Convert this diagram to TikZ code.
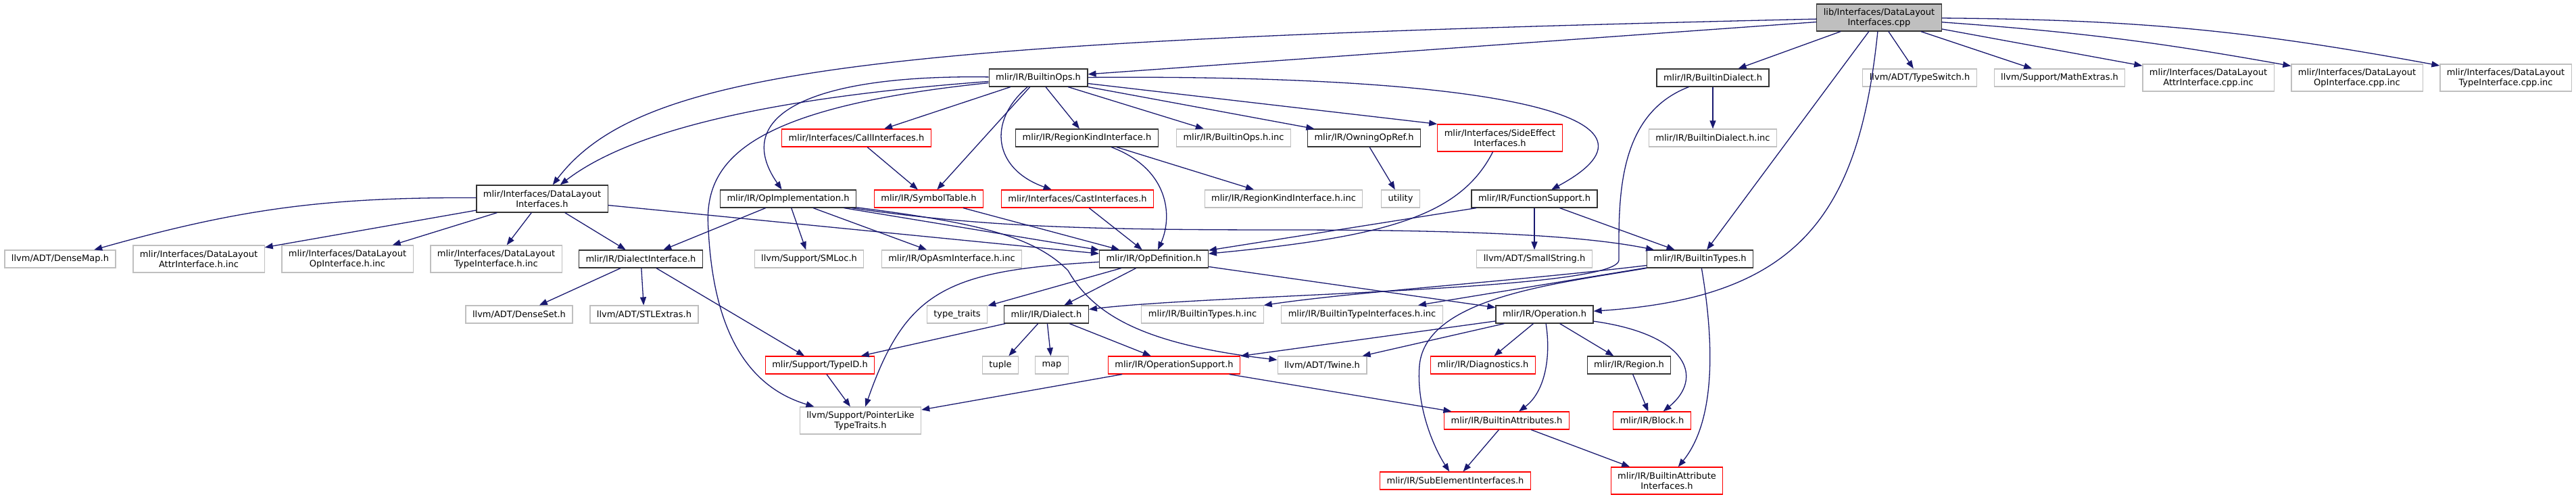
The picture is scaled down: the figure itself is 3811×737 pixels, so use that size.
\documentclass[tikz,border=0pt]{standalone}
\usepackage{fontspec}
\setmainfont{DejaVu Sans}
\usepackage{tikz}
\usetikzlibrary{arrows.meta}
\definecolor{edgeblue}{HTML}{191970}
\definecolor{boxgray}{HTML}{BFBFBF}

\begin{document}
\begin{tikzpicture}[
  x=1pt, y=-1pt,
  font=\fontsize{13}{15}\selectfont,
  >={Triangle[length=12pt,width=9pt]},
  hdr/.style ={rectangle, draw=black!80, fill=white, line width=1.2pt, inner xsep=10pt, inner ysep=2pt, minimum height=26pt, align=center},
  two/.style ={minimum height=40pt},
  sys/.style ={hdr, draw=boxgray},
  cut/.style ={hdr, draw=red},
  src/.style ={hdr, fill=boxgray},
  dep/.style ={->, draw=edgeblue, line width=1.3pt},
]
\useasboundingbox (0,0) rectangle (3811,737);
% the documented file
\node[src,two] (root) at (2780,26) {lib/Interfaces/DataLayout\\Interfaces.cpp};
% rank 1
\node[hdr] (bops)    at (1536,115) {mlir/IR/BuiltinOps.h};
\node[hdr] (bdia)    at (2534,115) {mlir/IR/BuiltinDialect.h};
\node[sys] (tsw)     at (2840,115) {llvm/ADT/TypeSwitch.h};
\node[sys] (mext)    at (3047,115) {llvm/Support/MathExtras.h};
\node[sys,two] (attrcpp) at (3267,115) {mlir/Interfaces/DataLayout\\AttrInterface.cpp.inc};
\node[sys,two] (opcpp)   at (3487,115) {mlir/Interfaces/DataLayout\\OpInterface.cpp.inc};
\node[sys,two] (typecpp) at (3707,115) {mlir/Interfaces/DataLayout\\TypeInterface.cpp.inc};
% rank 2
\node[cut] (call)    at (1267,204) {mlir/Interfaces/CallInterfaces.h};
\node[hdr] (rki)     at (1608,204) {mlir/IR/RegionKindInterface.h};
\node[sys] (bopsinc) at (1825,204) {mlir/IR/BuiltinOps.h.inc};
\node[hdr] (owning)  at (2018,204) {mlir/IR/OwningOpRef.h};
\node[cut,two] (sidefx) at (2219,204) {mlir/Interfaces/SideEffect\\Interfaces.h};
\node[sys] (bdiainc) at (2534,204) {mlir/IR/BuiltinDialect.h.inc};
% rank 3
\node[hdr,two] (dlif) at (802,294) {mlir/Interfaces/DataLayout\\Interfaces.h};
\node[hdr] (opimpl)  at (1166,294) {mlir/IR/OpImplementation.h};
\node[cut] (symtab)  at (1374,294) {mlir/IR/SymbolTable.h};
\node[cut] (cast)    at (1594,294) {mlir/Interfaces/CastInterfaces.h};
\node[sys] (rkiinc)  at (1899,294) {mlir/IR/RegionKindInterface.h.inc};
\node[sys] (util)    at (2072,294) {utility};
\node[hdr] (funcs)   at (2270,294) {mlir/IR/FunctionSupport.h};
% rank 4
\node[sys] (dmap)    at (89,383)   {llvm/ADT/DenseMap.h};
\node[sys,two] (attrinc) at (294,383) {mlir/Interfaces/DataLayout\\AttrInterface.h.inc};
\node[sys,two] (opinc)   at (514,383) {mlir/Interfaces/DataLayout\\OpInterface.h.inc};
\node[sys,two] (typeinc) at (734,383) {mlir/Interfaces/DataLayout\\TypeInterface.h.inc};
\node[hdr] (dialif)  at (948,383)  {mlir/IR/DialectInterface.h};
\node[sys] (smloc)   at (1197,383) {llvm/Support/SMLoc.h};
\node[sys] (opasm)   at (1408,383) {mlir/IR/OpAsmInterface.h.inc};
\node[hdr] (opdef)   at (1707,383) {mlir/IR/OpDefinition.h};
\node[sys] (sstr)    at (2270,383) {llvm/ADT/SmallString.h};
\node[hdr] (btypes)  at (2515,383) {mlir/IR/BuiltinTypes.h};
% rank 5
\node[sys] (dset)    at (768,465)  {llvm/ADT/DenseSet.h};
\node[sys] (stlx)    at (953,465)  {llvm/ADT/STLExtras.h};
\node[sys] (ttraits) at (1416,465) {type\_traits};
\node[hdr] (dialect) at (1548,465) {mlir/IR/Dialect.h};
\node[sys] (btinc)   at (1779,465) {mlir/IR/BuiltinTypes.h.inc};
\node[sys] (btiinc)  at (2015,465) {mlir/IR/BuiltinTypeInterfaces.h.inc};
\node[hdr] (oper)    at (2285,465) {mlir/IR/Operation.h};
% rank 6
\node[cut] (typeid)  at (1213,540) {mlir/Support/TypeID.h};
\node[sys] (tuple)   at (1480,540) {tuple};
\node[sys] (map)     at (1556,540) {map};
\node[cut] (opsup)   at (1737,540) {mlir/IR/OperationSupport.h};
\node[sys] (twine)   at (1956,540) {llvm/ADT/Twine.h};
\node[cut] (diag)    at (2194,540) {mlir/IR/Diagnostics.h};
\node[hdr] (region)  at (2410,540) {mlir/IR/Region.h};
% rank 7
\node[sys,two] (plt) at (1273,622) {llvm/Support/PointerLike\\TypeTraits.h};
\node[cut] (battr)   at (2229,622) {mlir/IR/BuiltinAttributes.h};
\node[cut] (block)   at (2444,622) {mlir/IR/Block.h};
% rank 8
\node[cut] (subel)   at (2153,711) {mlir/IR/SubElementInterfaces.h};
\node[cut,two] (baif) at (2466,711) {mlir/IR/BuiltinAttribute\\Interfaces.h};
% includes of the source file
\draw[dep] (root) .. controls (1300,60) and (950,100) .. (dlif);
\draw[dep] (root) -- (bops);  \draw[dep] (root) -- (bdia);  \draw[dep] (root) -- (btypes);
\draw[dep] (root) .. controls (2750,320) and (2660,440) .. (oper);
\draw[dep] (root) -- (tsw);   \draw[dep] (root) -- (mext);
\draw[dep] (root) -- (attrcpp);  \draw[dep] (root) to[bend left=3] (opcpp);  \draw[dep] (root) to[bend left=5] (typecpp);
% BuiltinOps.h
\draw[dep] (bops) .. controls (1200,140) and (950,180) .. (dlif);
\draw[dep] (bops) -- (call);  \draw[dep] (bops) -- (symtab);  \draw[dep] (bops) -- (rki);
\draw[dep] (bops) .. controls (1460,180) and (1470,250) .. (cast);
\draw[dep] (bops) -- (bopsinc);  \draw[dep] (bops) -- (owning);  \draw[dep] (bops) -- (sidefx.north west);
\draw[dep] (bops) .. controls (2200,110) and (2500,170) .. (funcs);
\draw[dep] (bops) .. controls (1200,110) and (1080,170) .. (opimpl);
\draw[dep] (bops) .. controls (1100,160) and (1040,240) .. (1048,340) .. controls (1055,480) and (1100,570) .. (plt);
% OpImplementation.h
\draw[dep] (opimpl) -- (dialif);  \draw[dep] (opimpl) -- (smloc);  \draw[dep] (opimpl) -- (opasm);
\draw[dep] (opimpl) -- (opdef);
\draw[dep] (opimpl) .. controls (1450,335) and (1600,340) .. (1900,340) .. controls (2200,340) and (2350,350) .. (btypes);
\draw[dep] (opimpl) .. controls (1450,330) and (1530,350) .. (1580,400) .. controls (1620,470) and (1700,510) .. (twine);
% DataLayoutInterfaces.h
\draw[dep] (dlif) to[bend right=8] (dmap);
\draw[dep] (dlif) -- (attrinc);  \draw[dep] (dlif) -- (opinc);  \draw[dep] (dlif) -- (typeinc);
\draw[dep] (dlif) -- (dialif);   \draw[dep] (dlif) -- (opdef);
% DialectInterface.h
\draw[dep] (dialif) -- (dset);  \draw[dep] (dialif) -- (stlx);  \draw[dep] (dialif) -- (typeid);
% second rank headers
\draw[dep] (call) -- (symtab);  \draw[dep] (symtab) -- (opdef);  \draw[dep] (cast) -- (opdef);
\draw[dep] (rki) .. controls (1730,250) and (1735,320) .. (opdef);
\draw[dep] (rki) -- (rkiinc);  \draw[dep] (owning) -- (util);
\draw[dep] (sidefx) .. controls (2160,320) and (2050,350) .. (opdef);
\draw[dep] (funcs) -- (opdef);  \draw[dep] (funcs) -- (sstr);  \draw[dep] (funcs) -- (btypes);
\draw[dep] (bdia) -- (bdiainc);
\draw[dep] (bdia) .. controls (2390,170) and (2395,300) .. (2395,385) .. controls (2390,430) and (1800,435) .. (dialect);
% lower headers
\draw[dep] (opdef) .. controls (1400,400) and (1340,430) .. (plt);
\draw[dep] (opdef) -- (ttraits);  \draw[dep] (opdef) -- (dialect);  \draw[dep] (opdef) -- (oper);
\draw[dep] (btypes) .. controls (2250,415) and (2000,432) .. (btinc);
\draw[dep] (btypes) -- (btiinc);
\draw[dep] (btypes) .. controls (2300,420) and (2110,440) .. (2100,540) .. controls (2095,600) and (2120,660) .. (subel);
\draw[dep] (btypes) .. controls (2535,500) and (2540,620) .. (baif);
\draw[dep] (dialect) -- (typeid);  \draw[dep] (dialect) -- (tuple);  \draw[dep] (dialect) -- (map);  \draw[dep] (dialect) -- (opsup);
\draw[dep] (oper) -- (opsup);  \draw[dep] (oper) -- (twine);  \draw[dep] (oper) -- (diag);  \draw[dep] (oper) -- (region);
\draw[dep] (oper) .. controls (2295,530) and (2285,580) .. (battr);
\draw[dep] (oper) .. controls (2500,495) and (2520,560) .. (block);
\draw[dep] (region) -- (block);  \draw[dep] (typeid) -- (plt);
\draw[dep] (opsup) -- (plt);  \draw[dep] (opsup) -- (battr);
\draw[dep] (battr) -- (subel);  \draw[dep] (battr) -- (baif);
\end{tikzpicture}
\end{document}
